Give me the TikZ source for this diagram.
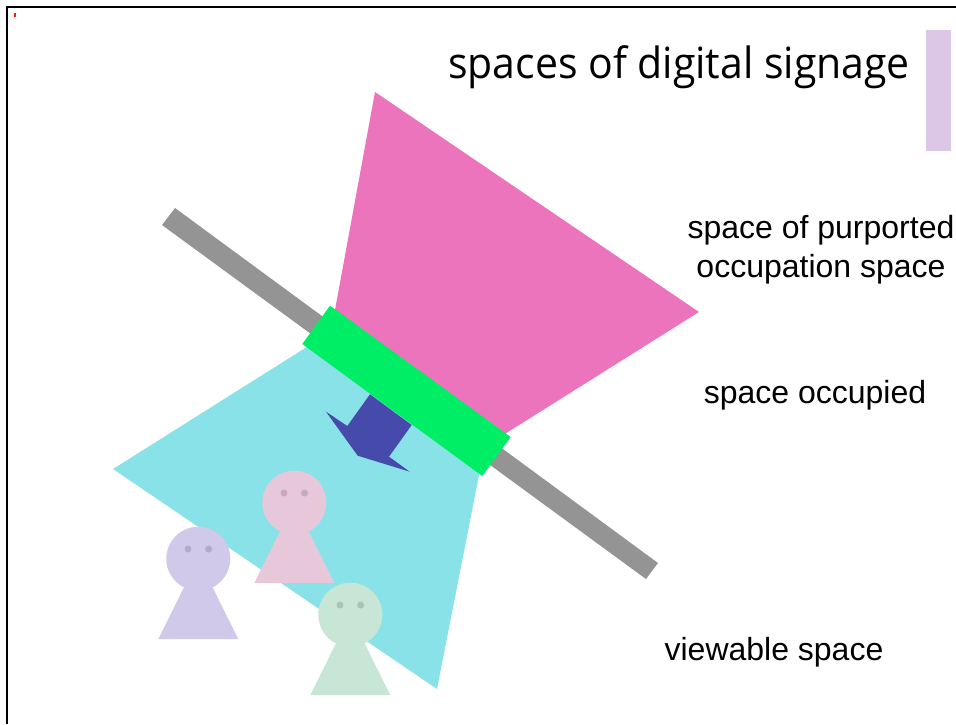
\documentclass[tikz,border=0pt]{standalone}
\usepackage{fontspec}
\setmainfont{Liberation Sans}
\newfontfamily\titlefont{Open Sans}
\definecolor{pinkc}{HTML}{EB74BC}
\definecolor{cyanc}{HTML}{8AE2E9}
\definecolor{greenc}{HTML}{00EE66}
\definecolor{grayc}{HTML}{949494}
\definecolor{bluec}{HTML}{464AAB}
\definecolor{lilac}{HTML}{DDC7E6}
\definecolor{pa}{HTML}{D0C9E9}
\definecolor{pb}{HTML}{E7C8DB}
\definecolor{pc}{HTML}{C8E6D6}
\tikzset{
  lab/.style={font=\fontsize{32}{39}\selectfont,text=black,inner sep=0pt,align=center},
  eye/.style={fill=black,fill opacity=0.15,draw=none},
  person/.pic={
    \fill[fill=#1] (0,0) circle (32);
    \fill[fill=#1] (0,0) -- (-40,80.3) -- (40,80.3) -- cycle;
    \fill[eye] (-10.3,-9.7) circle (3.5);
    \fill[eye] (10.3,-9.7) circle (3.5);
  }
}
\begin{document}
\begin{tikzpicture}[x=1pt,y=-1pt]
\useasboundingbox (0,0) rectangle (956,724);
\fill[white] (0,0) rectangle (956,724);
\fill[black] (6,6) rectangle (956,8);
\fill[black] (6,6) rectangle (8,724);
\fill[red!80!orange] (14,13) rectangle (16,17);
\fill[lilac] (926,30) rectangle (951,151);
\fill[grayc] (175,208) -- (162,225) -- (646,579) -- (658,563) -- cycle;
\fill[pinkc] (375,92) -- (699,312) -- (500,437) -- (335,310) -- cycle;
\fill[cyanc] (113,469) -- (437,689) -- (480,470) -- (310,345) -- cycle;
\fill[greenc] (330,305.7) -- (510.7,437) -- (482.3,476) -- (302.3,344) -- cycle;
\fill[bluec] (370,394.3) -- (347.3,426) -- (326,411.7) -- (357.7,455.7) -- (409.7,471.7) -- (389,456.7) -- (411.7,425) -- cycle;
\pic at (198.3,558.7) {person=pa};
\pic at (294.3,502.7) {person=pb};
\pic at (350.3,614.7) {person=pc};
\node[lab,font=\titlefont\fontsize{43}{49}\selectfont,anchor=base west,xscale=0.953,transform shape] (title) at (448,78.3) {spaces of digital signage};
\node[lab] (purported) at (821,249.5) {space of purported\\occupation space};
\node[lab,anchor=base] (occupied) at (815,403.3) {space occupied};
\node[lab] (viewable) at (774,652) {viewable space};
\end{tikzpicture}
\end{document}
